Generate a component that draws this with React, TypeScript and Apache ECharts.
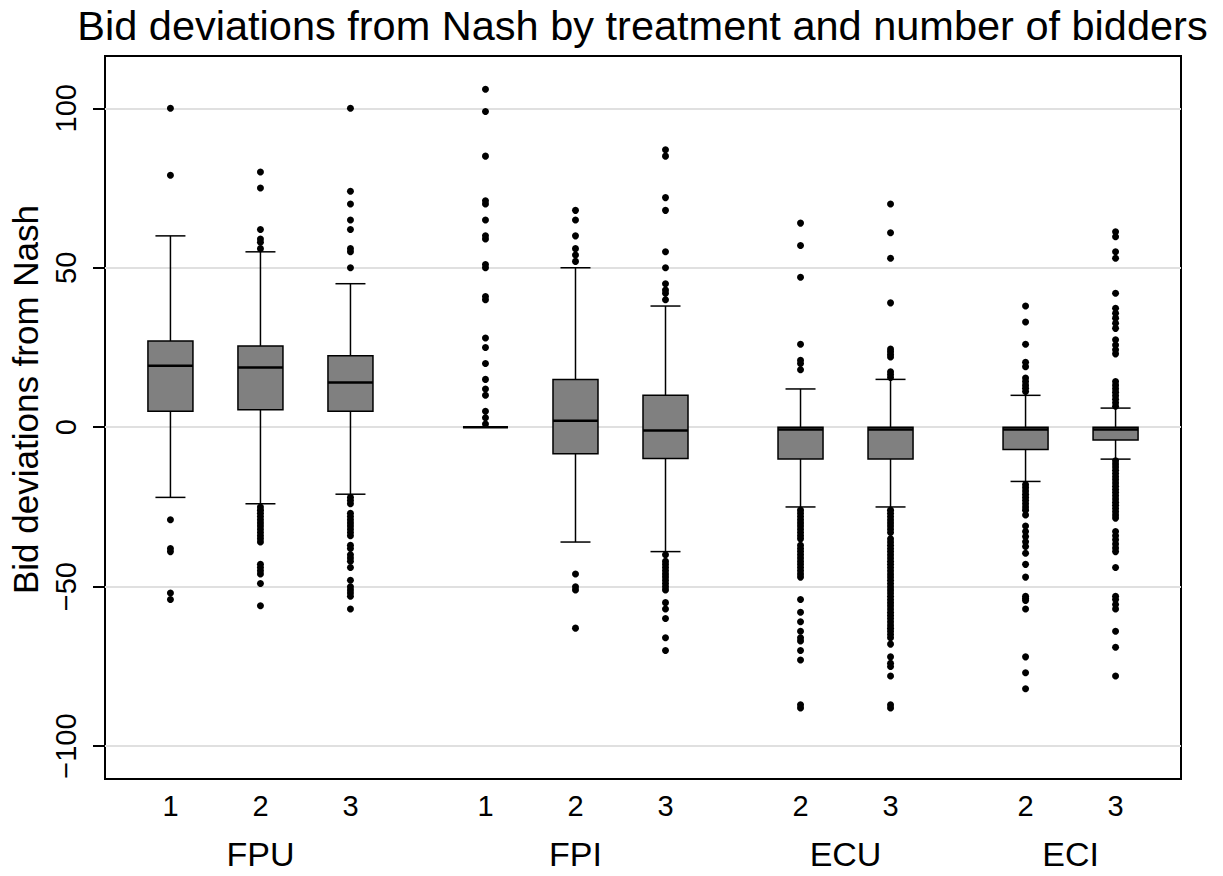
import React, { useEffect, useRef } from "react";
import * as echarts from "echarts";

// ---- data ----
const positions = [1, 2, 3, 4.5, 5.5, 6.5, 8, 9, 10.5, 11.5];
const tickLabels = ["1", "2", "3", "1", "2", "3", "2", "3", "2", "3"];
const groupNames = ["FPU", "FPI", "ECU", "ECI"];
const groupCenters = [2, 5.5, 8.5, 11];
const yTicks = [-100, -50, 0, 50, 100];

const lowWhisker = [-22, -24, -21, 0, -36, -39, -25, -25, -17, -10];
const q1 = [5, 5.5, 5, 0, -8.3, -9.8, -10, -10, -7, -4];
const median = [19.3, 18.7, 14, 0, 2, -1, -0.7, -0.7, -0.7, -0.7];
const q3 = [27, 25.5, 22.4, 0, 15, 10, 0, 0, 0, 0];
const highWhisker = [60, 55, 45, 0, 50, 38, 12, 15, 10, 6];

const outFPU1 = [100, 79, -29, -38, -39, -52, -54];
const outFPU2 = [80, 75, 62, 59, 58, 56, -25, -26, -27, -28, -29, -30, -31, -32, -33, -34, -35, -36, -43, -44, -45, -46, -49, -56];
const outFPU3 = [100, 74, 70, 65, 62, 56, 55, 50, -22, -23, -24, -27, -28, -29, -30, -31, -32, -33, -34, -37, -38, -40, -41, -42, -44, -48, -50, -51, -52, -53, -57];
const outFPI1 = [106, 99, 85, 71, 70, 65, 60, 59, 51, 50, 41, 40, 28, 25, 20, 15, 12, 10, 5, 3, 1];
const outFPI2 = [68, 65, 60, 56, 54, 52, -46, -50, -51, -63];
const outFPI3 = [87, 85, 72, 68, 55, 50, 45, 43, 42, 40, -40, -42, -43, -44, -45, -46, -47, -48, -49, -50, -51, -55, -57, -60, -66, -70];
const outECU2 = [64, 57, 47, 26, 21, 20, 18, -26, -27, -28, -29, -30, -31, -32, -33, -34, -35, -37, -38, -39, -40, -41, -42, -43, -44, -45, -46, -47, -54, -58, -61, -64, -66, -67, -70, -73, -87, -88];
const outECU3 = [70, 61, 53, 39, 24.5, 23.7, 22.8, 22, 17.4, 16.5, 15.6, -26, -27, -28, -29, -30, -31, -32, -33, -35, -36, -37, -38, -39, -40, -41, -42, -43, -44, -45, -46, -47, -48, -49, -50, -51, -52, -53, -54, -55, -56, -57, -58, -59, -60, -61, -62, -63, -64, -65, -66, -68, -72, -74, -75, -78, -87, -88];
const outECI2 = [38, 33, 26, 20.4, 19, 15.4, 14.3, 13.2, 12.2, 11.2, -18, -19, -20, -21, -22, -23, -24, -25, -26, -27.5, -31, -32.7, -34.3, -35.9, -37.4, -39.5, -43, -47, -53, -53.7, -54.3, -57, -72, -77, -82];
const outECI3 = [61.3, 59.7, 55, 53, 42, 37.3, 35.7, 34.2, 32.6, 31, 27.4, 25.8, 24.3, 23, 14.3, 13.2, 12.1, 11, 9.9, 8.8, 7.7, 6.6, -10.5, -11.5, -12.5, -13.5, -14.5, -15.5, -16.5, -17.5, -18.5, -19.5, -20.5, -21.5, -22.5, -23.5, -24.5, -25.5, -26.5, -27.5, -28.5, -32.7, -34, -35.3, -36.6, -37.9, -39, -44, -53, -54, -55.6, -57, -64, -69, -78];
const outliers = [outFPU1, outFPU2, outFPU3, outFPI1, outFPI2, outFPI3, outECU2, outECU3, outECI2, outECI3];

const FONT = "'Liberation Sans', Arial, Helvetica, sans-serif";

export default function App() {
  const ref = useRef<HTMLDivElement>(null);
  useEffect(() => {
    if (!ref.current) return;
    const chart = echarts.init(ref.current, undefined, { renderer: "svg" });

    const boxData = positions.map((p, i) => [p, lowWhisker[i], q1[i], median[i], q3[i], highWhisker[i]]);
    const outData: number[][] = [];
    outliers.forEach((arr, i) => arr.forEach((v) => outData.push([positions[i], v])));

    const findLabel = (v: number, xs: number[], labels: string[]) => {
      const idx = xs.findIndex((x) => Math.abs(x - v) < 1e-6);
      return idx >= 0 ? labels[idx] : "";
    };

    chart.setOption({
      animation: false,
      textStyle: { fontFamily: FONT },
      graphic: [
        {
          type: "text",
          x: 642.5,
          y: 25,
          style: {
            text: "Bid deviations from Nash by treatment and number of bidders",
            font: `41.5px ${FONT}`,
            fill: "#000",
            textAlign: "center",
            textVerticalAlign: "middle",
          },
        },
      ],
      grid: {
        left: 104,
        top: 56,
        width: 1077,
        height: 723,
        show: true,
        borderColor: "#000",
        borderWidth: 2,
      },
      xAxis: [
        {
          type: "value",
          min: 0.273,
          max: 12.227,
          position: "bottom",
          axisLine: { show: false },
          axisTick: { show: false },
          splitLine: { show: false },
          axisLabel: {
            customValues: positions,
            formatter: (v: number) => findLabel(v, positions, tickLabels),
            fontSize: 29,
            color: "#000",
            margin: 12,
          },
        },
        {
          type: "value",
          min: 0.273,
          max: 12.227,
          position: "bottom",
          offset: 46,
          axisLine: { show: false },
          axisTick: { show: false },
          splitLine: { show: false },
          axisLabel: {
            customValues: groupCenters,
            formatter: (v: number) => findLabel(v, groupCenters, groupNames),
            fontSize: 34,
            color: "#000",
            margin: 12,
          },
        },
      ],
      yAxis: {
        type: "value",
        min: -110.3,
        max: 116.4,
        axisLine: { show: false },
        axisTick: {
          show: true,
          length: 12,
          customValues: yTicks,
          lineStyle: { color: "#000", width: 2 },
        },
        axisLabel: {
          customValues: yTicks,
          rotate: 90,
          fontSize: 29,
          color: "#000",
          margin: 25,
          formatter: (v: number) => String(v).replace("-", "\u2212"),
        },
        splitLine: { show: true, lineStyle: { color: "#e0e0e0", width: 2 } },
        name: "Bid deviations from Nash",
        nameLocation: "middle",
        nameRotate: 90,
        nameGap: 62,
        nameTextStyle: { fontSize: 35, color: "#000", padding: [0, 0, 0, 36] },
      },
      series: [
        {
          type: "custom",
          xAxisIndex: 0,
          yAxisIndex: 0,
          data: boxData,
          encode: { x: 0, y: [1, 2, 3, 4, 5] },
          z: 2,
          renderItem: (_params: any, api: any) => {
            const x = api.value(0);
            const lo = api.value(1);
            const b1 = api.value(2);
            const md = api.value(3);
            const b3 = api.value(4);
            const hi = api.value(5);
            const tl = api.coord([x - 0.25, b3]);
            const br = api.coord([x + 0.25, b1]);
            const pHi = api.coord([x, hi]);
            const pQ3 = api.coord([x, b3]);
            const pQ1 = api.coord([x, b1]);
            const pLo = api.coord([x, lo]);
            const capL = api.coord([x - 1 / 6, hi]);
            const capR = api.coord([x + 1 / 6, hi]);
            const capLl = api.coord([x - 1 / 6, lo]);
            const capRl = api.coord([x + 1 / 6, lo]);
            const mL = api.coord([x - 0.25, md]);
            const mR = api.coord([x + 0.25, md]);
            const ls = { stroke: "#000", lineWidth: 1.5 };
            return {
              type: "group",
              children: [
                { type: "line", shape: { x1: pQ3[0], y1: pQ3[1], x2: pHi[0], y2: pHi[1] }, style: ls },
                { type: "line", shape: { x1: pQ1[0], y1: pQ1[1], x2: pLo[0], y2: pLo[1] }, style: ls },
                { type: "line", shape: { x1: capL[0], y1: capL[1], x2: capR[0], y2: capR[1] }, style: ls },
                { type: "line", shape: { x1: capLl[0], y1: capLl[1], x2: capRl[0], y2: capRl[1] }, style: ls },
                {
                  type: "rect",
                  shape: { x: tl[0], y: tl[1], width: br[0] - tl[0], height: br[1] - tl[1] },
                  style: { fill: "#808080", stroke: "#000", lineWidth: 1.5 },
                },
                { type: "line", shape: { x1: mL[0], y1: mL[1], x2: mR[0], y2: mR[1] }, style: { stroke: "#000", lineWidth: 2.5 } },
              ],
            };
          },
        },
        {
          type: "scatter",
          xAxisIndex: 0,
          yAxisIndex: 0,
          data: outData,
          symbol: "circle",
          symbolSize: 7,
          itemStyle: { color: "#000", opacity: 1 },
          z: 3,
        },
      ],
    });
    return () => chart.dispose();
  }, []);
  return (
    <div
      ref={ref}
      style={{ position: "fixed", left: 0, top: 0, width: 1223, height: 876, background: "#fff" }}
    />
  );
}
